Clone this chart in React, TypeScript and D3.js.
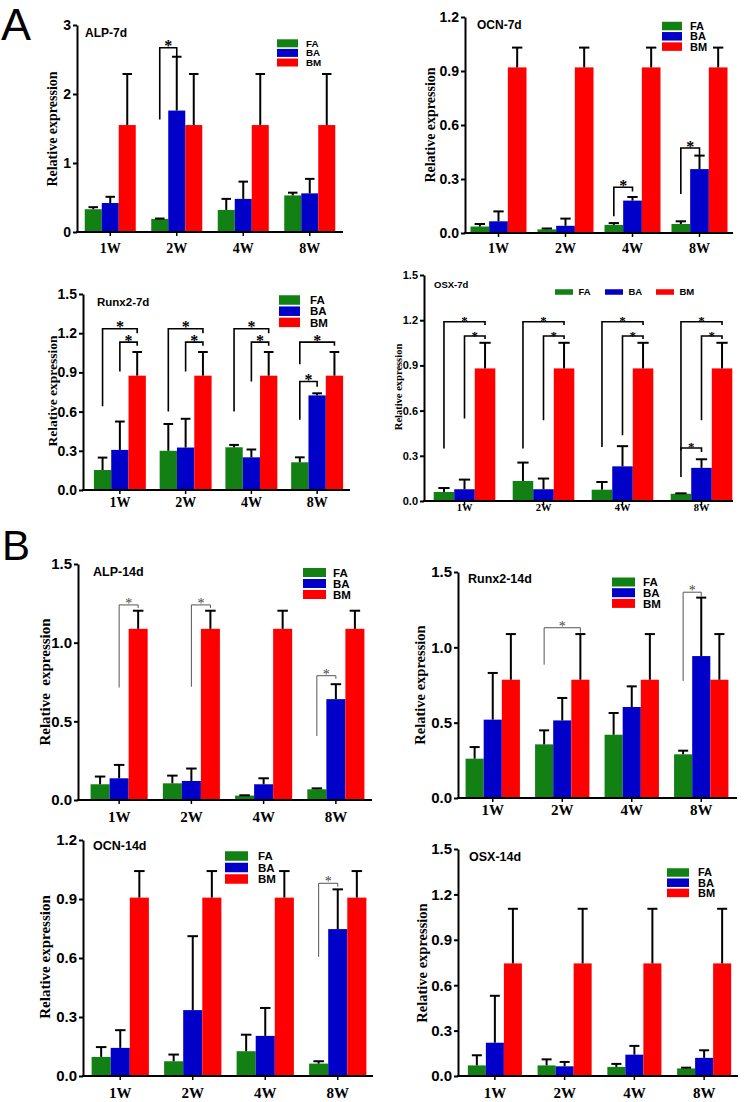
import React, { useEffect, useRef } from "react";
import * as d3 from "d3";

const weeks = ["1W", "2W", "4W", "8W"];
const groups = ["FA", "BA", "BM"];
const groupColors = ["#138013", "#0000c8", "#ff0000"];

// mean and error (upper bar length), rows = weeks, cols = FA, BA, BM
// significance: [week, from group, to group, left leg start, right leg end, bracket top]
const alp7Mean = [[0.33, 0.42, 1.55], [0.19, 1.76, 1.55], [0.32, 0.48, 1.55], [0.53, 0.56, 1.55]];
const alp7Err = [[0.03, 0.09, 0.74], [0.005, 0.78, 0.74], [0.16, 0.25, 0.74], [0.04, 0.21, 0.74]];
const alp7Sig = [["2W", 0, 1, 1.63, 2.54, 2.67]];

const ocn7Mean = [[0.036, 0.065, 0.92], [0.02, 0.04, 0.92], [0.045, 0.18, 0.92], [0.05, 0.355, 0.92]];
const ocn7Err = [[0.014, 0.055, 0.11], [0.005, 0.04, 0.11], [0.01, 0.02, 0.11], [0.015, 0.075, 0.11]];
const ocn7Sig = [["4W", 0, 1, 0.093, 0.231, 0.254], ["8W", 0, 1, 0.217, 0.426, 0.472]];

const runx7Mean = [[0.153, 0.307, 0.875], [0.3, 0.325, 0.875], [0.327, 0.25, 0.875], [0.212, 0.724, 0.875]];
const runx7Err = [[0.095, 0.217, 0.181], [0.205, 0.22, 0.181], [0.018, 0.06, 0.181], [0.038, 0.016, 0.181]];
const runx7Sig = [
  ["1W", 0, 2, 0.64, 1.2, 1.234], ["1W", 1, 2, 0.907, 1.104, 1.132],
  ["2W", 0, 2, 0.6, 1.2, 1.234], ["2W", 1, 2, 0.907, 1.104, 1.132],
  ["4W", 0, 2, 0.6, 1.2, 1.234], ["4W", 1, 2, 0.83, 1.104, 1.132],
  ["8W", 0, 2, 0.963, 1.104, 1.132], ["8W", 0, 1, 0.537, 0.79, 0.83],
];

const osx7Mean = [[0.06, 0.078, 0.88], [0.133, 0.078, 0.88], [0.075, 0.23, 0.88], [0.048, 0.22, 0.88]];
const osx7Err = [[0.026, 0.064, 0.17], [0.122, 0.071, 0.17], [0.051, 0.134, 0.17], [0.003, 0.057, 0.17]];
const osx7Sig = [
  ["1W", 0, 2, 0.348, 1.168, 1.19], ["1W", 1, 2, 0.547, 1.075, 1.095],
  ["2W", 0, 2, 0.348, 1.168, 1.19], ["2W", 1, 2, 0.536, 1.075, 1.095],
  ["4W", 0, 2, 0.359, 1.168, 1.19], ["4W", 1, 2, 0.437, 1.075, 1.095],
  ["8W", 0, 2, 0.337, 1.168, 1.19], ["8W", 1, 2, 0.536, 1.075, 1.095],
  ["8W", 0, 1, 0.16, 0.326, 0.352],
];

const alp14Mean = [[0.1, 0.138, 1.088], [0.106, 0.121, 1.088], [0.028, 0.1, 1.088], [0.068, 0.641, 1.088]];
const alp14Err = [[0.049, 0.085, 0.115], [0.049, 0.079, 0.115], [0.002, 0.038, 0.115], [0.006, 0.095, 0.115]];
const alp14Sig = [["1W", 1, 2, 0.715, 1.22, 1.24], ["2W", 1, 2, 0.72, 1.22, 1.24], ["8W", 0, 1, 0.407, 0.77, 0.79]];

const runx14Mean = [[0.261, 0.52, 0.785], [0.356, 0.515, 0.785], [0.42, 0.604, 0.785], [0.29, 0.942, 0.785]];
const runx14Err = [[0.077, 0.31, 0.303], [0.093, 0.149, 0.303], [0.144, 0.137, 0.303], [0.024, 0.388, 0.303]];
const runx14Sig = [["2W", 0, 2, 0.885, 1.097, 1.13], ["8W", 0, 1, 0.777, 1.337, 1.366]];

const ocn14Mean = [[0.097, 0.143, 0.907], [0.075, 0.335, 0.907], [0.126, 0.204, 0.907], [0.063, 0.747, 0.907]];
const ocn14Err = [[0.05, 0.09, 0.135], [0.034, 0.376, 0.135], [0.084, 0.142, 0.135], [0.012, 0.202, 0.135]];
const ocn14Sig = [["8W", 0, 1, 0.606, 0.963, 0.98]];

const osx14Mean = [[0.07, 0.22, 0.744], [0.07, 0.064, 0.744], [0.06, 0.141, 0.744], [0.05, 0.12, 0.744]];
const osx14Err = [[0.067, 0.31, 0.361], [0.04, 0.029, 0.361], [0.02, 0.058, 0.361], [0.005, 0.05, 0.361]];
const osx14Sig: any[] = [];

const ticks3 = [0, 1, 2, 3];
const ticks12 = [0, 0.3, 0.6, 0.9, 1.2];
const ticks15 = [0, 0.3, 0.6, 0.9, 1.2, 1.5];
const ticks15b = [0, 0.5, 1.0, 1.5];

const SANS = "Arial, 'Liberation Sans', sans-serif";
const SERIF = "'Times New Roman', 'Liberation Serif', serif";

const panels = [
  {
    title: "ALP-7d", mean: alp7Mean, err: alp7Err, sig: alp7Sig, yMax: 3, ticks: ticks3, fmt: "d",
    axisX: 77, axisEnd: 343, band: [77, 343], pad: 0.233, top: 25, bottom: 232,
    tickFs: 14, xFs: 14, xGap: 21, yLab: [52, 129, 14], ttl: [85, 37, 12],
    legend: { x: 277, y: 43.3, dy: 9.6, w: 21, h: 8, tx: 306, fs: 9.8 }, thin: false,
  },
  {
    title: "OCN-7d", mean: ocn7Mean, err: ocn7Err, sig: ocn7Sig, yMax: 1.2, ticks: ticks12, fmt: ".1f",
    axisX: 465, axisEnd: 733, band: [465, 733], pad: 0.164, top: 17, bottom: 233,
    tickFs: 14, xFs: 14, xGap: 20, yLab: [430, 125, 14], ttl: [477, 29, 12],
    legend: { x: 662, y: 26, dy: 10.3, w: 20, h: 8.5, tx: 690, fs: 11 }, thin: false,
  },
  {
    title: "Runx2-7d", mean: runx7Mean, err: runx7Err, sig: runx7Sig, yMax: 1.5, ticks: ticks15, fmt: ".1f",
    axisX: 83, axisEnd: 350, band: [87, 350], pad: 0.21, top: 294, bottom: 490,
    tickFs: 14, xFs: 14, xGap: 17, yLab: [52, 391, 13.5], ttl: [97, 306, 11.5],
    legend: { x: 279, y: 300, dy: 11.2, w: 21, h: 9.5, tx: 310, fs: 11.5 }, thin: false,
  },
  {
    title: "OSX-7d", mean: osx7Mean, err: osx7Err, sig: osx7Sig, yMax: 1.5, ticks: ticks15, fmt: ".1f",
    axisX: 424, axisEnd: 733, band: [425, 741], pad: 0.22, top: 275, bottom: 501,
    tickFs: 11, xFs: 10.5, xGap: 10, yLab: [398, 387, 10.5], ttl: [434, 288, 9.5],
    legend: { horizontal: true, xs: [555, 605, 656], y: 292, w: 18, h: 5.5, tx: 23.5, fs: 9.5 }, thin: false,
    starFs: 13,
  },
  {
    title: "ALP-14d", mean: alp14Mean, err: alp14Err, sig: alp14Sig, yMax: 1.5, ticks: ticks15b, fmt: ".1f",
    axisX: 78, axisEnd: 372, band: [83, 372], pad: 0.21, top: 564, bottom: 800,
    tickFs: 15, xFs: 15, xGap: 22, yLab: [45, 682, 15], ttl: [93, 576, 12.5], yText: "Relative  expression",
    legend: { x: 303, y: 572.5, dy: 11, w: 23, h: 9, tx: 333, fs: 11.5 }, thin: true,
  },
  {
    title: "Runx2-14d", mean: runx14Mean, err: runx14Err, sig: runx14Sig, yMax: 1.5, ticks: ticks15b, fmt: ".1f",
    axisX: 458, axisEnd: 737, band: [458, 736], pad: 0.218, top: 572, bottom: 798,
    tickFs: 15, xFs: 15, xGap: 17, yLab: [420, 685, 14.5], ttl: [468, 583, 12.5],
    legend: { x: 612, y: 582, dy: 10.7, w: 23, h: 9, tx: 643, fs: 11.5 }, thin: true,
  },
  {
    title: "OCN-14d", mean: ocn14Mean, err: ocn14Err, sig: ocn14Sig, yMax: 1.2, ticks: ticks12, fmt: ".1f",
    axisX: 83, axisEnd: 373, band: [84, 374], pad: 0.21, top: 840, bottom: 1076,
    tickFs: 15, xFs: 15, xGap: 22, yLab: [45, 957, 15], ttl: [93, 850, 12.5],
    legend: { x: 225, y: 856, dy: 11.5, w: 23, h: 9.5, tx: 258, fs: 11.5 }, thin: true,
  },
  {
    title: "OSX-14d", mean: osx14Mean, err: osx14Err, sig: osx14Sig, yMax: 1.5, ticks: ticks15, fmt: ".1f",
    axisX: 458, axisEnd: 738, band: [460, 739], pad: 0.225, top: 849, bottom: 1076,
    tickFs: 15, xFs: 15, xGap: 22, yLab: [422, 963, 14.5], ttl: [469, 861, 12.5],
    legend: { x: 667, y: 872.5, dy: 10.2, w: 22, h: 8.5, tx: 698, fs: 11 }, thin: true,
  },
];

const drawPanel = (svg: any, p: any) => {
  const g = svg.append("g");

  const y = d3.scaleLinear().domain([0, p.yMax]).range([p.bottom, p.top]);
  const x = d3
    .scaleBand()
    .domain(weeks)
    .range(p.band)
    .paddingInner(p.pad)
    .paddingOuter(p.pad / 2);
  const xs = d3.scaleBand().domain(groups).range([0, x.bandwidth()]);
  const bw = xs.bandwidth();

  const rows: any[] = [];
  weeks.forEach((w, i) =>
    groups.forEach((s, j) => rows.push({ w, s, j, v: p.mean[i][j], e: p.err[i][j] }))
  );

  // bars
  g.selectAll("rect.bar")
    .data(rows)
    .enter()
    .append("rect")
    .attr("x", (d: any) => x(d.w)! + xs(d.s)!)
    .attr("y", (d: any) => y(d.v))
    .attr("width", bw)
    .attr("height", (d: any) => y(0) - y(d.v))
    .attr("fill", (d: any) => groupColors[d.j]);

  // error bars (upper only)
  const capW = bw * 0.5 + 1;
  rows.forEach((d) => {
    const cx = x(d.w)! + xs(d.s)! + bw / 2;
    g.append("line")
      .attr("x1", cx).attr("x2", cx)
      .attr("y1", y(d.v)).attr("y2", y(d.v + d.e))
      .attr("stroke", "#000").attr("stroke-width", 2);
    g.append("line")
      .attr("x1", cx - capW / 2).attr("x2", cx + capW / 2)
      .attr("y1", y(d.v + d.e)).attr("y2", y(d.v + d.e))
      .attr("stroke", "#000").attr("stroke-width", 2);
  });

  // significance brackets
  p.sig.forEach((s: any) => {
    const [w, a, b, ya, yb, top] = s;
    const xa = x(w)! + xs(groups[a])! + bw / 2;
    const xb = x(w)! + xs(groups[b])! + bw / 2;
    g.append("path")
      .attr("d", `M${xa},${y(ya)}V${y(top)}H${xb}V${y(yb)}`)
      .attr("fill", "none")
      .attr("stroke", p.thin ? "#555" : "#000")
      .attr("stroke-width", p.thin ? 1 : 1.6);
    g.append("text")
      .attr("x", (xa + xb) / 2)
      .attr("y", y(top) + (p.thin ? 3 : 3.5))
      .attr("text-anchor", "middle")
      .attr("font-family", SERIF)
      .attr("font-weight", p.thin ? "normal" : "bold")
      .attr("font-size", p.thin ? 14 : p.starFs || 16)
      .attr("fill", p.thin ? "#444" : "#000")
      .text("*");
  });

  // y axis
  const yAxis = g
    .append("g")
    .attr("transform", `translate(${p.axisX},0)`)
    .call(
      d3.axisLeft(y)
        .tickValues(p.ticks)
        .tickFormat(d3.format(p.fmt))
        .tickSize(4)
        .tickSizeOuter(0)
        .tickPadding(2)
    );
  yAxis.attr("font-family", SANS).attr("font-size", p.tickFs).attr("font-weight", "bold");
  yAxis.select(".domain").attr("stroke-width", 2);
  yAxis.selectAll("line").attr("stroke-width", 2);

  // x axis
  g.append("line")
    .attr("x1", p.axisX - 1).attr("x2", p.axisEnd)
    .attr("y1", p.bottom).attr("y2", p.bottom)
    .attr("stroke", "#000").attr("stroke-width", 2);
  const xAxis = g
    .append("g")
    .attr("transform", `translate(0,${p.bottom})`)
    .call(d3.axisBottom(x).tickSize(4).tickSizeOuter(0));
  xAxis.select(".domain").remove();
  xAxis.selectAll("line").attr("stroke-width", 1.5);
  xAxis.attr("font-family", SERIF).attr("font-size", p.xFs).attr("font-weight", "bold");
  xAxis.selectAll("text").attr("y", p.xGap).attr("dy", null);

  // y label
  g.append("text")
    .attr("transform", `translate(${p.yLab[0]},${p.yLab[1]}) rotate(-90)`)
    .attr("text-anchor", "middle")
    .attr("dominant-baseline", "central")
    .attr("font-family", SERIF)
    .attr("font-weight", "bold")
    .attr("font-size", p.yLab[2])
    .style("white-space", "pre")
    .text(p.yText || "Relative expression");

  // title
  g.append("text")
    .attr("x", p.ttl[0]).attr("y", p.ttl[1])
    .attr("font-family", SANS).attr("font-weight", "bold").attr("font-size", p.ttl[2])
    .text(p.title);

  // legend
  const L = p.legend;
  groups.forEach((s, j) => {
    const lx = L.horizontal ? L.xs[j] : L.x;
    const ly = L.horizontal ? L.y : L.y + j * L.dy;
    g.append("rect")
      .attr("x", lx).attr("y", ly - L.h / 2)
      .attr("width", L.w).attr("height", L.h)
      .attr("fill", groupColors[j]);
    g.append("text")
      .attr("x", L.horizontal ? lx + L.tx : L.tx)
      .attr("y", ly + L.fs * 0.36)
      .attr("font-family", SANS).attr("font-weight", "bold").attr("font-size", L.fs)
      .text(s);
  });
};

const App = () => {
  const chartRef = useRef<SVGSVGElement>(null);

  useEffect(() => {
    const svg = d3.select(chartRef.current);
    svg.selectAll("*").remove();
    svg.append("rect").attr("width", 750).attr("height", 1102).attr("fill", "#fff");

    panels.forEach((p) => drawPanel(svg, p));

    // panel letters
    svg.append("text").attr("x", 1).attr("y", 40)
      .attr("font-family", SANS).attr("font-size", 45).text("A");
    svg.append("text").attr("x", 2).attr("y", 560)
      .attr("font-family", SANS).attr("font-size", 42).text("B");
  }, []);

  return (
    <svg
      ref={chartRef}
      width={750}
      height={1102}
      style={{ position: "absolute", left: 0, top: 0 }}
    ></svg>
  );
};

export default App;
